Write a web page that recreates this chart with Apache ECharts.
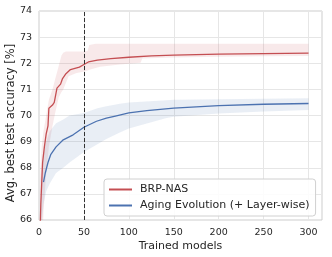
<!DOCTYPE html>
<html><head><meta charset="utf-8">
<script src="https://cdn.jsdelivr.net/npm/echarts@6/dist/echarts.min.js"></script>
<style>html,body{margin:0;padding:0;background:#fff}#c{width:332px;height:257px}</style>
</head><body><div id="c"></div>
<script>
// ---- data ----
const seriesNames = ['BRP-NAS', 'Aging Evolution (+ Layer-wise)'];
const xTicks = [0, 50, 100, 150, 200, 250, 300];
const yTicks = [66, 67, 68, 69, 70, 71, 72, 73, 74];

const brpX = [1, 2, 3, 4, 6, 8, 10, 11, 15, 17, 20, 24, 26, 30, 35, 45, 50, 55, 65, 80, 100, 125, 150, 200, 250, 300];
const brpY = [65.2, 66.6, 67.4, 68.2, 68.8, 69.3, 69.6, 70.28, 70.4, 70.5, 71.05, 71.2, 71.4, 71.6, 71.76, 71.85, 71.95, 72.05, 72.12, 72.18, 72.23, 72.28, 72.31, 72.35, 72.37, 72.39];

const brpBandX = [1, 3, 5, 8, 11, 15, 18, 20, 22, 25, 27, 30, 33, 41, 50, 54, 56, 63, 68, 90, 113, 115, 150, 200, 250, 300];
const brpBandHigh = [67.5, 68.8, 69.4, 70.0, 70.6, 71.0, 71.4, 71.65, 71.9, 72.3, 72.4, 72.45, 72.45, 72.45, 72.45, 72.47, 72.7, 72.75, 72.75, 72.75, 72.75, 72.75, 72.75, 72.75, 72.75, 72.75];
const brpBandLow = [62, 64.5, 66.3, 67.8, 68.8, 69.6, 70.1, 70.4, 70.7, 70.9, 71.0, 71.25, 71.5, 71.62, 71.68, 71.72, 71.75, 71.82, 71.87, 71.95, 72.02, 72.18, 72.22, 72.25, 72.27, 72.28];

const aeX = [5, 7, 10, 13, 19, 27, 38, 50, 64, 75, 85, 100, 120, 150, 200, 250, 300];
const aeY = [67.45, 67.8, 68.2, 68.5, 68.8, 69.07, 69.26, 69.55, 69.78, 69.9, 69.98, 70.1, 70.19, 70.28, 70.38, 70.43, 70.46];

const aeBandX = [2, 5, 8, 12, 19, 27, 34, 50, 65, 75, 90, 100, 142, 150, 200, 250, 300];
const aeBandHigh = [67.6, 68.5, 69.0, 69.4, 69.7, 69.85, 70.0, 70.1, 70.28, 70.35, 70.45, 70.5, 70.58, 70.6, 70.62, 70.64, 70.66];
const aeBandLow = [65.5, 66.6, 67.1, 67.4, 67.8, 68.0, 68.2, 68.6, 68.9, 69.1, 69.35, 69.5, 69.9, 69.95, 70.08, 70.15, 70.21];

const markerX = 50;

// ---- chart ----
const RED = '#C44E52', BLUE = '#4C72B0';
const pairs = (xs, ys) => xs.map((x, i) => [x, ys[i]]);
const font = 'DejaVu Sans';

function band(xs, lo, hi, color) {
  return {
    type: 'custom', silent: true, z: 1,
    data: [[xs[0], lo[0]]],
    renderItem: function (params, api) {
      const pts = [];
      for (let i = 0; i < xs.length; i++) pts.push(api.coord([xs[i], hi[i]]));
      for (let i = xs.length - 1; i >= 0; i--) pts.push(api.coord([xs[i], lo[i]]));
      const cs = params.coordSys;
      return {
        type: 'group',
        clipPath: { type: 'rect', shape: { x: cs.x, y: cs.y, width: cs.width, height: cs.height } },
        children: [{
          type: 'polygon', shape: { points: pts },
          style: { fill: color, opacity: 0.12, stroke: null }
        }]
      };
    }
  };
}

const chart = echarts.init(document.getElementById('c'), null, { renderer: 'canvas' });
chart.setOption({
  animation: false,
  backgroundColor: '#fff',
  textStyle: { fontFamily: font },
  grid: { left: 39, right: 10, top: 11, bottom: 37, containLabel: false, outerBoundsMode: 'none',
    show: true, borderColor: '#cccccc', borderWidth: 1 },
  xAxis: {
    type: 'value', min: 0, max: 315, interval: 50,
    name: 'Trained models', nameLocation: 'middle', nameGap: 21, nameMoveOverlap: false,
    nameTextStyle: { color: '#262626', fontSize: 11, fontFamily: font },
    axisLine: { show: false }, axisTick: { show: false },
    axisLabel: { color: '#262626', fontSize: 9.5, fontFamily: font, margin: 8, showMaxLabel: false,
      formatter: v => xTicks.includes(v) ? String(v) : '' },
    splitLine: { show: true, lineStyle: { color: '#e6e6e6', width: 1 } }
  },
  yAxis: {
    type: 'value', min: 66, max: 74, interval: 1,
    name: 'Avg. best test accuracy [%]', nameLocation: 'middle', nameGap: 22, nameMoveOverlap: false,
    nameTextStyle: { color: '#262626', fontSize: 11.5, fontFamily: font, padding: [0, 15, 0, 0] },
    axisLine: { show: false }, axisTick: { show: false },
    axisLabel: { color: '#262626', fontSize: 9.5, fontFamily: font, margin: 7,
      formatter: v => yTicks.includes(v) ? String(v) : '' },
    splitLine: { show: true, lineStyle: { color: '#e6e6e6', width: 1 } }
  },
  legend: {
    orient: 'vertical', left: 104, top: 179, width: 212,
    padding: [5, 6, 5, 5], itemGap: 5, itemWidth: 23, itemHeight: 2,
    backgroundColor: 'rgba(255,255,255,0.85)', borderColor: '#d0d0d0', borderWidth: 1, borderRadius: 3,
    textStyle: { color: '#262626', fontSize: 11, fontFamily: font, padding: [0, 0, 0, 3] },
    data: [{ name: seriesNames[0], icon: 'rect' }, { name: seriesNames[1], icon: 'rect' }]
  },
  series: [
    band(brpBandX, brpBandLow, brpBandHigh, RED),
    band(aeBandX, aeBandLow, aeBandHigh, BLUE),
    {
      name: seriesNames[0], type: 'line', data: pairs(brpX, brpY), symbol: 'none',
      color: RED, lineStyle: { color: RED, width: 1.3 }, z: 3,
      markLine: { silent: true, symbol: 'none', label: { show: false },
        lineStyle: { color: '#333', type: [4, 2], width: 1 }, data: [{ xAxis: markerX }] }
    },
    {
      name: seriesNames[1], type: 'line', data: pairs(aeX, aeY), symbol: 'none',
      color: BLUE, lineStyle: { color: BLUE, width: 1.3 }, z: 3
    }
  ]
});
</script></body></html>
